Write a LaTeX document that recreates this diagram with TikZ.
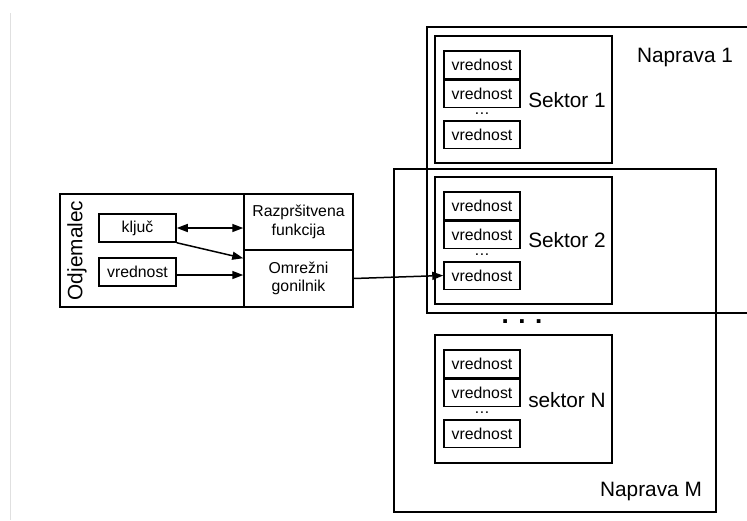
\documentclass[tikz,border=0pt]{standalone}
\usepackage{fontspec}
\setmainfont{Liberation Sans}
\usetikzlibrary{arrows.meta,calc}
\begin{document}
\begin{tikzpicture}[x=1pt,y=-1pt,
  line width=1.5pt,
  small/.style={font=\fontsize{15.8}{18.5}\selectfont},
  big/.style={font=\fontsize{20.8}{24}\selectfont},
  vbox/.style={draw, small, minimum width=76pt, minimum height=27.5pt, inner sep=0pt},
  sectorbox/.style={draw, minimum width=177pt, minimum height=127pt, inner sep=0pt},
  cellbox/.style={draw, small, minimum width=109pt, inner sep=0pt, align=center},
  arr/.style={-{Triangle[length=11pt,width=8pt]}},
  darr/.style={{Triangle[length=11pt,width=8pt]}-{Triangle[length=11pt,width=8pt]}}
]
\useasboundingbox (0,0) rectangle (747,520);
% faint page edge line
\draw[line width=0.8pt, black!12] (10.5,13) -- (10.5,520);

% devices
\draw (747,27) -- (427,27) -- (427,313) -- (747,313);
\draw (394,169) rectangle (716,512);
\node[big] (n1) at (685,57) {Naprava 1};
\node[big] (nM) at (651,491) {Naprava M};
\node[font=\fontsize{26}{26}\selectfont\bfseries] (bigdots) at (522,322) {. . .};

% sectors
\node[sectorbox] (s1) at (523.5,99.5) {};
\node[sectorbox] (s2) at (523.5,240.5) {};
\node[sectorbox, minimum height=128pt] (sN) at (523.5,399) {};
\node[big] (s1l) at (567,100) {Sektor 1};
\node[big] (s2l) at (567,240) {Sektor 2};
\node[big] (sNl) at (567,400) {sektor N};

\foreach \n/\y in {s1/50, s2/191, sN/349} {
  \node[vbox, anchor=north] (\n v1) at (482,\y) {vrednost};
  \node[vbox, anchor=north] (\n v2) at (\n v1.south) {vrednost};
  \node[small, inner sep=0pt] (\n dots) at ($(482,\y)+(0,63.5)$) {…};
  \node[vbox, anchor=north] (\n v3) at ($(482,\y)+(0,70)$) {vrednost};
}

% client
\draw (60,194) rectangle (353,307);
\node[big, rotate=90] (odj) at (77,250.5) {Odjemalec};
\node[cellbox, minimum height=56pt] (raz) at (298.5,222) {Razpršitvena\\funkcija};
\node[cellbox, minimum height=57pt] (omr) at (298.5,278.5) {Omrežni\\gonilnik};
\node[vbox, minimum width=77pt, minimum height=28pt] (kl) at (137.5,228) {ključ};
\node[vbox, minimum width=77pt, minimum height=28pt] (vr) at (137.5,272) {vrednost};

% connectors
\draw[darr] (kl.east) -- (raz.west |- kl.east);
\draw[arr] (kl.south east) -- ([yshift=-9pt]omr.north west);
\draw[arr] ([yshift=-3pt]vr.east) -- ([yshift=-3pt]omr.west |- vr.east);
\draw[arr] (omr.east) -- (s2v3.west);
\end{tikzpicture}
\end{document}
